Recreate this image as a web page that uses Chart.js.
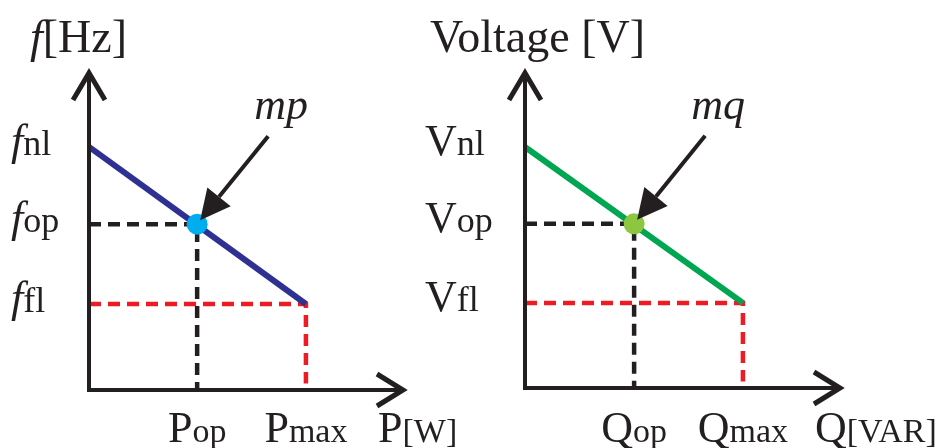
<!DOCTYPE html>
<html>
<head>
<meta charset="utf-8">
<script src="https://cdn.jsdelivr.net/npm/chart.js@4/dist/chart.umd.min.js"></script>
<style>
  body { margin: 0; background: #ffffff; }
  canvas { position: absolute; top: 0; }
</style>
</head>
<body>
<canvas id="pChart" width="475" height="448" style="left:0"></canvas>
<canvas id="qChart" width="541" height="448" style="left:410px"></canvas>
<script>
// P-f droop (left)
const pLevels = [3.39, 6.8];              // P_op, P_max
const pTicks = [['P', 'op'], ['P', 'max']];
const fLevels = [7.55, 5.15, 2.67];       // f_nl, f_op, f_fl
const fTicks = [['f', 'nl'], ['f', 'op'], ['f', 'fl']];

// Q-V droop (right)
const qLevels = [3.41, 6.81];             // Q_op, Q_max
const qTicks = [['Q', 'op'], ['Q', 'max']];
const vLevels = [7.53, 5.13, 2.66];       // V_nl, V_op, V_fl
const vTicks = [['V', 'nl'], ['V', 'op'], ['V', 'fl']];

const INK = '#231f20';
const SERIF = '"Liberation Serif", "DejaVu Serif", serif';

// draws big letter + smaller suffix
function pair(ctx, main, sub, mainFont, subFont, x0, base, center) {
    ctx.font = mainFont;
    const w1 = ctx.measureText(main).width;
    ctx.font = subFont;
    const w2 = ctx.measureText(sub).width;
    let x = center ? x0 - (w1 + w2) / 2 : x0;
    ctx.font = mainFont;
    ctx.fillText(main, x, base);
    ctx.font = subFont;
    ctx.fillText(sub, x + w1, base);
}

const droopDecor = {
    id: 'droopDecor',
    afterDatasetsDraw(chart, args, o) {
        const { ctx, chartArea: a, scales: { x, y } } = chart;
        ctx.save();
        ctx.strokeStyle = INK;
        ctx.fillStyle = INK;

        // axes
        ctx.lineWidth = 4;
        ctx.beginPath();
        ctx.moveTo(a.left, a.top + 6);
        ctx.lineTo(a.left, a.bottom);
        ctx.lineTo(a.right - 6, a.bottom);
        ctx.stroke();

        // open arrow heads
        ctx.lineWidth = 5;
        ctx.beginPath();
        ctx.moveTo(a.left - 16, a.top + 32);
        ctx.lineTo(a.left, a.top + 5);
        ctx.lineTo(a.left + 16, a.top + 32);
        ctx.moveTo(a.right - 31, a.bottom - 16);
        ctx.lineTo(a.right - 5, a.bottom);
        ctx.lineTo(a.right - 31, a.bottom + 16);
        ctx.stroke();

        // slope pointer arrow
        const px = x.getPixelForValue(o.opX), py = y.getPixelForValue(o.opY);
        const sx = px + 71, sy = py - 88, tx = px + 3, ty = py - 4;
        const ang = Math.atan2(ty - sy, tx - sx);
        const hl = 30, hw = 15;
        const bx = tx - hl * Math.cos(ang), by = ty - hl * Math.sin(ang);
        ctx.lineWidth = 4;
        ctx.beginPath();
        ctx.moveTo(sx, sy);
        ctx.lineTo(bx, by);
        ctx.stroke();
        ctx.beginPath();
        ctx.moveTo(tx, ty);
        ctx.lineTo(bx + hw * Math.sin(ang), by - hw * Math.cos(ang));
        ctx.lineTo(bx - hw * Math.sin(ang), by + hw * Math.cos(ang));
        ctx.closePath();
        ctx.fill();

        ctx.textBaseline = 'alphabetic';
        ctx.font = 'italic 44px ' + SERIF;
        ctx.textAlign = 'center';
        ctx.fillText(o.slope, px + 84, py - 105);
        ctx.textAlign = 'left';

        const mainY = (o.italic ? 'italic ' : '') + '44px ' + SERIF;
        const big = '44px ' + SERIF, small = '34px ' + SERIF;

        // y ticks
        o.yTicks.forEach((t, i) => {
            const yp = y.getPixelForValue(o.yLevels[i]);
            pair(ctx, t[0], t[1], mainY, '36px ' + SERIF, a.left + o.yTickDx, yp + 8, false);
        });
        // x ticks
        o.xTicks.forEach((t, i) => {
            const xp = x.getPixelForValue(o.xLevels[i]);
            pair(ctx, t[0], t[1], big, small, xp, chart.height - 6, true);
        });
        // axis titles
        pair(ctx, o.yTitle[0], o.yTitle[1], (o.italic ? 'italic ' : '') + '46px ' + SERIF,
             '46px ' + SERIF, a.left + o.yTitleDx, 52, false);
        pair(ctx, o.xTitle[0], o.xTitle[1], big, small, a.right - 30, chart.height - 6, false);
        ctx.restore();
    }
};

function droopChart(id, xLevels, yLevels, lineColor, dotColor, pad, decor) {
    return new Chart(document.getElementById(id), {
        type: 'scatter',
        data: {
            datasets: [{
                data: [{ x: xLevels[0], y: yLevels[1] }],
                pointRadius: 10.5,
                pointBackgroundColor: dotColor,
                pointBorderWidth: 0,
                order: 0
            }, {
                data: [{ x: 0, y: yLevels[0] }, { x: xLevels[1], y: yLevels[2] }],
                showLine: true,
                borderColor: lineColor,
                borderWidth: 6,
                pointRadius: 0,
                order: 1
            }, {
                data: [{ x: 0, y: yLevels[1] }, { x: xLevels[0], y: yLevels[1] }, { x: xLevels[0], y: 0 }],
                showLine: true,
                borderColor: INK,
                borderWidth: 4.5,
                borderDash: [12, 7],
                pointRadius: 0,
                order: 2
            }, {
                data: [{ x: 0, y: yLevels[2] }, { x: xLevels[1], y: yLevels[2] }, { x: xLevels[1], y: 0.2 }],
                showLine: true,
                borderColor: '#ed1c24',
                borderWidth: 4.5,
                borderDash: [12, 7],
                pointRadius: 0,
                order: 3
            }]
        },
        options: {
            responsive: false,
            animation: false,
            layout: { padding: pad },
            plugins: {
                legend: { display: false },
                tooltip: { enabled: false },
                droopDecor: Object.assign({ opX: xLevels[0], opY: yLevels[1], xLevels, yLevels }, decor)
            },
            scales: {
                x: { type: 'linear', min: 0, max: 10, display: false },
                y: { type: 'linear', min: 0, max: 10, display: false }
            }
        },
        plugins: [droopDecor]
    });
}

droopChart('pChart', pLevels, fLevels, '#2e3192', '#00aeef',
    { left: 89, right: 67, top: 68, bottom: 58 },
    { slope: 'mp', italic: true, xTicks: pTicks, yTicks: fTicks, yTickDx: -78, yTitleDx: -59,
      yTitle: ['f', '[Hz]'], xTitle: ['P', '[W]'] });

droopChart('qChart', qLevels, vLevels, '#00a651', '#8dc63f',
    { left: 115, right: 106, top: 68, bottom: 60 },
    { slope: 'mq', italic: false, xTicks: qTicks, yTicks: vTicks, yTickDx: -100, yTitleDx: -95,
      yTitle: ['', 'Voltage [V]'], xTitle: ['Q', '[VAR]'] });
</script>
</body>
</html>
